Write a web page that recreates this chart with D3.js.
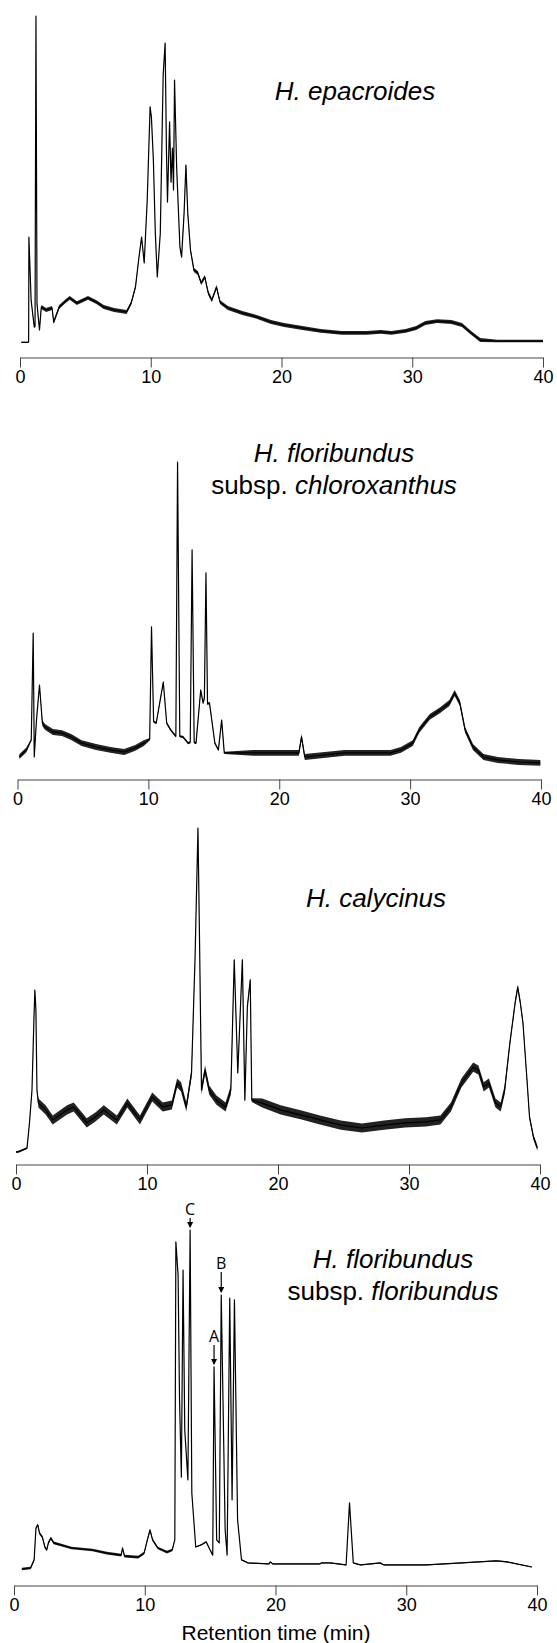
<!DOCTYPE html>
<html>
<head>
<meta charset="utf-8">
<script src="https://cdn.jsdelivr.net/npm/d3@7"></script>
<style>
  body { margin: 0; background: #fff; }
  svg { display: block; }
  .tick text { font-family: "Liberation Sans", Arial, sans-serif; font-size: 18px; fill: #000; }
  .title { font-family: "Liberation Sans", Arial, sans-serif; font-size: 26px; fill: #000; }
</style>
</head>
<body>
<svg id="chart"></svg>
<script>
// retention time (min), relative detector response (% of tallest peak)
const epacroides = [[0.1,0.2],[0.6,0.2],[0.66,0.3],[0.68,32.4],[0.85,13.1],[1.09,4.9],[1.15,5],[1.22,100],[1.3,12],[1.49,4.0],
  [1.63,11.0],[2.0,10.1],[2.45,10.7],[2.58,6.4],[3.0,11.0],[3.4,12.5],[3.8,13.8],[4.35,12.2],[5.2,13.8],[5.85,12.5],
  [6.4,11.0],[7.2,10.1],[8.15,9.5],[8.5,12.2],[8.83,17.1],[9.1,26.3],[9.3,32.4],[9.5,24.5],[9.73,43.7],[9.95,72.2],
  [10.05,69.1],[10.2,56.0],[10.35,33.6],[10.5,20.2],[10.73,33.6],[10.95,82.0],[11.1,91.7],[11.2,59.0],[11.28,43.1],[11.44,67.6],
  [11.55,49.2],[11.66,59.6],[11.74,46.8],[11.82,80.4],[11.98,53.8],[12.23,29.4],[12.36,26.3],[12.55,39.8],[12.69,54.4],[12.83,39.8],
  [13.04,28.4],[13.3,22.3],[13.6,21.4],[13.86,18.3],[14.13,20.2],[14.4,15.3],[14.67,13.1],[15.03,17.1],[15.3,12.5],[15.9,10.7],
  [17.0,9.2],[18.1,8.0],[19.2,6.4],[20.2,5.5],[21.6,4.6],[23.0,3.7],[24.6,3.1],[26.5,3.1],[27.6,3.4],[28.4,3.1],
  [29.5,3.7],[30.3,4.6],[31.0,6.1],[31.9,6.7],[33.0,6.4],[33.8,5.5],[34.5,3.1],[35.2,0.9],[36.5,0.6],[38.2,0.6],[40.0,0.6]]

const chloroxanthus = [[0.14,0.1],[0.68,2.4],[1.05,5.8],[1.2,42.0],[1.28,0],[1.45,12.5],[1.68,24.4],[1.9,11.5],[2.1,10.2],[2.7,8.5],
  [3.4,8.1],[4.1,6.8],[4.9,4.7],[6.0,3.4],[7.1,2.4],[8.15,1.7],[9.0,3.1],[9.65,4.7],[10.1,6],[10.24,44.1],
  [10.4,12],[10.6,11.5],[11.14,25.4],[11.4,11.5],[11.7,9.2],[12.1,7],[12.23,100],[12.4,7],[12.64,6.8],[13.04,4.7],
  [13.2,5],[13.34,70.2],[13.5,5],[13.64,4.7],[14.0,22.7],[14.18,18.3],[14.28,20],[14.4,62.4],[14.52,18],[14.67,18.3],
  [15.08,4.7],[15.35,2.4],[15.6,12.5],[15.8,1.4],[18.0,1.4],[21.5,1.4],[21.7,6.8],[21.95,0],[25.0,1.4],[28.5,1.4],
  [29.3,2.4],[30.2,4.7],[30.7,9.2],[31.5,13.6],[32.3,15.9],[33.0,18.3],[33.4,21.7],[33.8,18.3],[34.2,9.2],[34.8,3.4],
  [35.6,0],[36.7,-1.0],[38.3,-1.7],[39.95,-2.0]]

const calycinus = [[0,0],[0.2,0.1],[0.84,1.2],[1.03,9.0],[1.22,19.1],[1.36,39.8],[1.44,50.0],[1.52,43.8],[1.6,19.1],[1.71,15.1],
  [2.26,13.0],[2.8,9.9],[3.9,13.0],[4.4,13.9],[5.4,9.0],[6.06,10.8],[6.7,13.0],[7.7,9.9],[8.5,15.1],[9.46,9.9],
  [10.4,17.0],[11.2,13.9],[11.9,14.5],[12.3,21.3],[12.6,20.1],[13.0,13.9],[13.4,24.4],[13.67,60.2],[13.89,100],[14.0,68.5],
  [14.16,19.1],[14.43,25.3],[14.75,19.1],[15.3,16.0],[16.0,13.9],[16.4,19.1],[16.66,59.3],[16.93,24.4],[17.28,59.3],[17.47,16.0],
  [17.66,44.8],[17.88,53.1],[18.0,16.0],[18.8,15.1],[20.2,13.0],[21.8,11.4],[23.2,9.9],[24.8,8.3],[26.4,7.4],[28.1,8.3],
  [29.7,9.0],[31.3,9.3],[32.4,9.9],[33.2,13.9],[34.0,21.3],[34.9,26.2],[35.3,25.3],[35.7,20.1],[36.1,21.3],[36.6,15.1],
  [37.0,13.9],[37.3,19.1],[37.7,33.6],[38.1,46.0],[38.3,50.9],[38.5,46.0],[38.7,39.8],[38.97,24.4],[39.2,10.8],[39.5,4.6],[39.8,1.2]]

const floribundus = [[0.6,0],[1.27,0.3],[1.54,2.7],[1.68,12.1],[1.82,13.0],[1.95,10.6],[2.17,9.4],[2.36,6.5],[2.5,5.6],[2.63,7.7],
  [2.82,9.1],[3.04,7.7],[4.4,6.2],[6.0,5.6],[7.1,4.7],[8.2,4.1],[8.3,6.2],[8.45,3.8],[9.5,3.5],[9.95,4.7],
  [10.2,8.6],[10.4,11.5],[10.6,8.6],[11.0,6.2],[11.7,5.0],[12.1,5.6],[12.3,8.6],[12.38,96.5],[12.55,86.7],[12.66,49.9],
  [12.8,27.1],[12.93,88.2],[13.06,41.0],[13.3,26.3],[13.47,100],[13.6,22.4],[13.9,6.5],[14.3,7.1],[14.7,8.0],[15.0,5.6],
  [15.2,4.1],[15.3,59.6],[15.5,8.6],[15.7,7.7],[15.85,80.8],[16.15,11.5],[16.3,4.1],[16.5,79.9],[16.68,20.4],[16.86,79.4],
  [17.1,14.5],[17.4,2.7],[17.9,1.8],[19.5,1.5],[19.6,2.1],[19.8,1.5],[23.4,1.5],[23.5,1.8],[24.2,1.8],[25.4,1.2],
  [25.66,19.5],[25.95,1.8],[26.5,1.2],[28.0,1.8],[28.3,1.2],[31.5,1.2],[34.2,1.8],[36.9,2.4],[37.7,2.1],[39.6,0.6]]

// baseline noise half-width, read per time window: [from, to, halfwidth]
const epacroidesNoise = [[0,1.55,0.2],[1.55,9.0,0.6],[9.0,12.3,0.3],[12.3,35.5,0.6],[35.5,40,0.4]]
const chloroxanthusNoise = [[0,1.0,0.8],[1.0,1.8,0.3],[1.8,9.9,1.0],[9.9,15.9,0.4],[15.9,40,1.0]]
const calycinusNoise = [[0,1.7,0.3],[1.7,13.5,1.4],[13.5,14.1,0.4],[14.1,16.5,1.4],[16.5,18.0,0.6],[18,37.5,1.4],[37.5,40,0.8]]
const floribundusNoise = [[0,12.2,0.4],[12.2,40,0.15]]

const tickValues = [0, 10, 20, 30, 40]

const peakLabels = [
  {label: 'C', time: 13.47, value: 100},
  {label: 'B', time: 15.85, value: 80.8},
  {label: 'A', time: 15.3, value: 59.6}
]

const panels = [
  {data: epacroides, noise: epacroidesNoise, x0: 20, x1: 543, yZero: 343, yTop: 16, axisY: 357,
   title: [[['H. epacroides', true]]], titleX: 355, titleY: 100},
  {data: chloroxanthus, noise: chloroxanthusNoise, x0: 17.5, x1: 541, yZero: 757, yTop: 462, axisY: 779,
   title: [[['H. floribundus', true]], [['subsp. ', false], ['chloroxanthus', true]]], titleX: 334, titleY: 462},
  {data: calycinus, noise: calycinusNoise, x0: 16, x1: 540, yZero: 1152, yTop: 828, axisY: 1164,
   title: [[['H. calycinus', true]]], titleX: 376, titleY: 907},
  {data: floribundus, noise: floribundusNoise, x0: 14, x1: 537, yZero: 1569, yTop: 1230, axisY: 1585,
   title: [[['H. floribundus', true]], [['subsp. ', false], ['floribundus', true]]], titleX: 393, titleY: 1268,
   peaks: peakLabels}
]

const arrowGap = {C: 15, B: 26, A: 25}

const svg = d3.select('#chart')
  .attr('width', 557)
  .attr('height', 1643)

svg.append('rect')
  .attr('width', 557)
  .attr('height', 1643)
  .attr('fill', '#fff')

panels.forEach(p => {
  const x = d3.scaleLinear().domain([0, 40]).range([p.x0, p.x1])
  const y = d3.scaleLinear().domain([0, 100]).range([p.yZero, p.yTop])
  const g = svg.append('g')

  const halfWidth = t => {
    const seg = p.noise.find(s => t >= s[0] && t <= s[1])
    return seg ? seg[2] : 0
  }

  // noisy band around the trace
  g.append('path')
    .datum(p.data)
    .attr('fill', '#222')
    .attr('d', d3.area()
      .x(d => x(d[0]))
      .y0(d => y(d[1] - halfWidth(d[0])))
      .y1(d => y(d[1] + halfWidth(d[0]))))

  g.append('path')
    .datum(p.data)
    .attr('fill', 'none')
    .attr('stroke', '#000')
    .attr('stroke-width', 1.2)
    .attr('stroke-linejoin', 'round')
    .attr('d', d3.line().x(d => x(d[0])).y(d => y(d[1])))

  const axis = d3.axisBottom(x)
    .tickValues(tickValues)
    .tickSizeInner(10)
    .tickSizeOuter(0)
    .tickPadding(3)

  const ax = g.append('g')
    .attr('transform', `translate(0, ${p.axisY + 0.5})`)
    .call(axis)
  ax.select('.domain').attr('stroke', '#444')
  ax.selectAll('.tick line').attr('stroke', '#444')

  const title = g.append('text')
    .attr('class', 'title')
    .attr('text-anchor', 'middle')
  p.title.forEach((line, i) => {
    line.forEach((part, j) => {
      const ts = title.append('tspan')
        .text(part[0])
        .attr('font-style', part[1] ? 'italic' : 'normal')
      if (j === 0) ts.attr('x', p.titleX).attr('y', p.titleY + i * 31.5)
    })
  })

  if (p.peaks) {
    p.peaks.forEach(pk => {
      const px = x(pk.time)
      const top = y(pk.value)
      const gap = arrowGap[pk.label]
      g.append('line')
        .attr('x1', px).attr('x2', px)
        .attr('y1', top - gap + 3).attr('y2', top - 3)
        .attr('stroke', '#000')
        .attr('stroke-width', 1.2)
      g.append('path')
        .attr('d', `M${px - 3},${top - 8} L${px + 3},${top - 8} L${px},${top - 2} Z`)
        .attr('fill', '#000')
      g.append('text')
        .attr('x', px)
        .attr('y', top - gap)
        .attr('text-anchor', 'middle')
        .attr('font-family', '"Open Sans", sans-serif')
        .attr('font-size', 16)
        .text(pk.label)
    })
  }
})

svg.append('text')
  .attr('x', 276)
  .attr('y', 1640)
  .attr('text-anchor', 'middle')
  .attr('font-family', '"Liberation Sans", Arial, sans-serif')
  .attr('font-size', 21)
  .text('Retention time (min)')
</script>
</body>
</html>
